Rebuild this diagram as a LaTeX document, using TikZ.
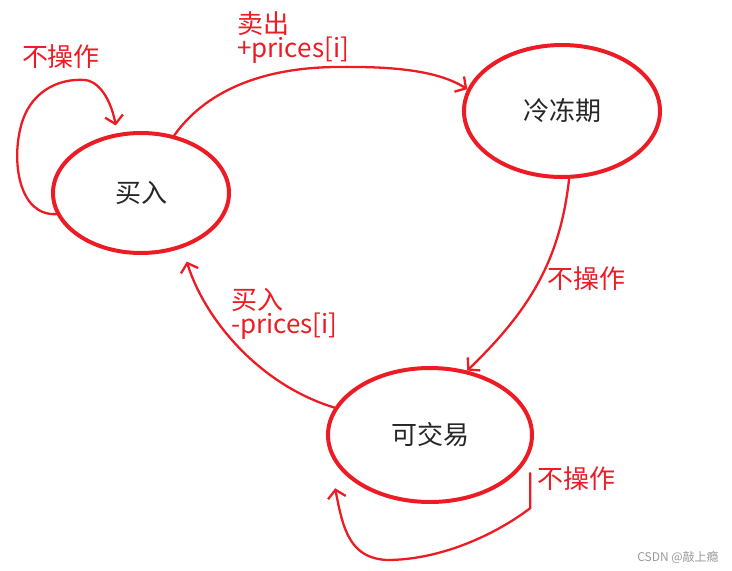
\documentclass[tikz,border=0pt]{standalone}
\usepackage{fontspec}
\setmainfont{Noto Sans CJK SC}
\usepackage{xcolor}
\usepackage{tikz}
\usetikzlibrary{arrows.meta, shapes.geometric, positioning}

\definecolor{penred}{RGB}{237,28,36}

\begin{document}
\begin{tikzpicture}[
    x=1pt, y=-1pt,
    state/.style = {draw=penred, ellipse, line width=4pt, inner sep=0pt,
                    font=\fontsize{26}{30}\selectfont, text=black!85},
    arr/.style   = {draw=penred, line width=2.3pt, line cap=round,
                    -{Straight Barb[length=8pt,width=18pt]}},
    lbl/.style   = {text=penred, inner sep=0pt, align=left,
                    font=\fontsize{26}{24}\selectfont},
    wmark/.style = {text=black!40, inner sep=0pt, font=\fontsize{12}{14}\selectfont},
  ]
  \useasboundingbox (0,0) rectangle (732,571);
  \node[state, minimum width=176pt, minimum height=120pt] (buy) at (141,193) {买入};
  \node[state, minimum width=196pt, minimum height=132pt] (cool) at (562,111) {冷冻期};
  \node[state, minimum width=204pt, minimum height=134pt] (trade) at (430,435) {可交易};
  \node[lbl] (buyhold) at (61,57) {不操作};
  \node[lbl, anchor=north west] (sell) at (237,11) {卖出\\+prices[i]};
  \node[lbl] (coolhold) at (586,279) {不操作};
  \node[lbl, anchor=north west] (rebuy) at (231,288) {买入\\-prices[i]};
  \node[lbl] (tradehold) at (576,479) {不操作};
  \node[wmark] (wm) at (678,557) {CSDN @敲上瘾};
  \draw[arr] (buy.194) .. controls (20,216) and (12,165) .. (20,130)
             .. controls (28,92) and (58,78) .. (85,80)
             .. controls (102,82) and (112,105) .. ([yshift=8pt]buy.113);
  \draw[arr] (buy.60) .. controls (205,92) and (260,68) .. (335,67)
             .. controls (400,66) and (440,72) .. (cool.167);
  \draw[arr] (cool.276) .. controls (560,260) and (530,310) .. (trade.60);
  \draw[arr] (trade.164) .. controls (260,385) and (205,320) .. ([shift={(9pt,-12pt)}]buy.-57);
  \draw[arr] ([shift={(9pt,-5pt)}]trade.-20) -- ++(0,35)
             .. controls (495,535) and (440,560) .. (387,560)
             .. controls (350,558) and (343,530) .. ([shift={(-15pt,-9pt)}]trade.209);
\end{tikzpicture}
\end{document}
